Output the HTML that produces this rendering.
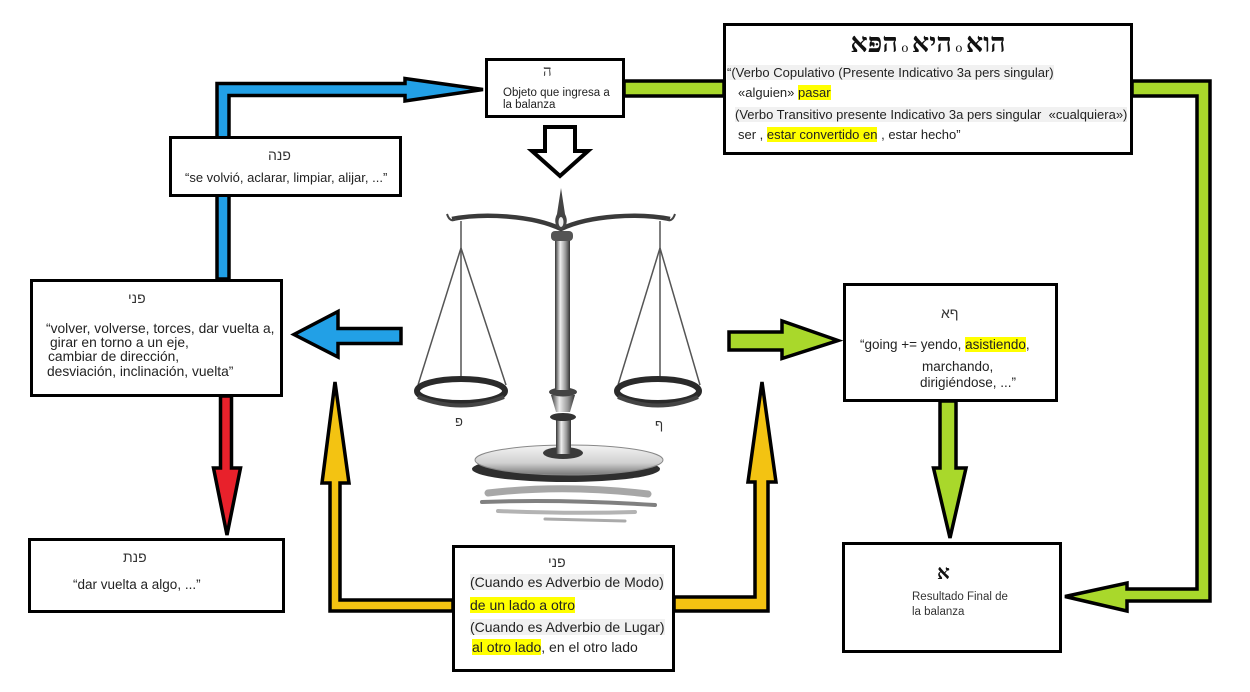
<!DOCTYPE html>
<html><head><meta charset="utf-8">
<style>
html,body{margin:0;padding:0;background:#fff;}
#p{position:relative;width:1250px;height:692px;overflow:hidden;background:#fff;font-family:"Liberation Sans","DejaVu Sans",sans-serif;color:#222;}
.b{position:absolute;border:3.5px solid #000;background:#fff;box-sizing:border-box;}
.t{position:absolute;white-space:nowrap;line-height:16px;font-size:13px;}
.h{position:absolute;white-space:nowrap;direction:rtl;font-family:"Liberation Sans","DejaVu Sans",sans-serif;font-size:14px;line-height:18px;color:#333;}
mark{background:#ffff00;color:inherit;padding:0;}
.g{background:#f1f1f1;}
</style></head><body><div id="p">
<svg width="1250" height="692" style="position:absolute;left:0;top:0">
<defs>
<linearGradient id="col" x1="0" x2="1" y1="0" y2="0"><stop offset="0" stop-color="#333"/><stop offset="0.35" stop-color="#eee"/><stop offset="0.7" stop-color="#999"/><stop offset="1" stop-color="#333"/></linearGradient>
<linearGradient id="bs" x1="0" y1="0" x2="0" y2="1"><stop offset="0" stop-color="#f4f4f4"/><stop offset="0.6" stop-color="#d0d0d0"/><stop offset="1" stop-color="#777"/></linearGradient>
</defs>
<g stroke="#000" stroke-width="3.5" stroke-linejoin="miter">
<path d="M217 279 L217 83.5 L405 83.5 L405 78.5 L483 89.5 L405 101 L405 95.5 L229 95.5 L229 279 Z" fill="#22a0e6"/>
<path d="M545 127 L575 127 L575 151 L588 151 L560 176 L532 151 L545 151 Z" fill="#fff" stroke-width="4"/>
<rect x="624" y="81" width="100" height="15" fill="#a9d82b"/>
<path d="M1132 81 L1210 81 L1210 601 L1127 601 L1127 611 L1065 596.5 L1127 583 L1127 589 L1197 589 L1197 96 L1132 96 Z" fill="#a9d82b"/>
<path d="M401 328.5 L338 328.5 L338 311.5 L294 334.5 L338 357 L338 343.5 L401 343.5 Z" fill="#22a0e6"/>
<path d="M220.5 396 L220.5 468 L213.5 468 L227 535 L240.5 468 L231.5 468 L231.5 396 Z" fill="#e8212b"/>
<path d="M453 600 L340 600 L340 483 L349 483 L335 382 L322 483 L330 483 L330 611 L453 611 Z" fill="#f3c312"/>
<path d="M674 597 L755 597 L755 482 L748 482 L762 382 L776 482 L768 482 L768 611 L674 611 Z" fill="#f3c312"/>
<path d="M729 332 L782 332 L782 321 L838 340.5 L782 358.5 L782 350 L729 350 Z" fill="#a9d82b"/>
<path d="M940 401 L940 468 L933.5 468 L950 538 L966 468 L956 468 L956 401 Z" fill="#a9d82b"/>
</g>
<g>
<path d="M488 493 Q565 484 648 494" stroke="#8a8a8a" stroke-width="7" fill="none" stroke-linecap="round" opacity="0.75"/>
<path d="M482 502 Q560 499 655 505" stroke="#555" stroke-width="4" fill="none" stroke-linecap="round" opacity="0.75"/>
<path d="M498 511 Q570 514 635 512" stroke="#999" stroke-width="4" fill="none" stroke-linecap="round" opacity="0.75"/>
<path d="M545 519 L625 521" stroke="#aaa" stroke-width="3" fill="none" stroke-linecap="round"/>
<ellipse cx="566" cy="469" rx="94" ry="13" fill="#2e2e2e"/>
<ellipse cx="569" cy="460" rx="94" ry="15" fill="url(#bs)" stroke="#888" stroke-width="1"/>
<ellipse cx="563" cy="453" rx="20" ry="6" fill="#3a3a3a"/>
<rect x="556" y="418" width="15" height="36" fill="url(#col)"/>
<ellipse cx="563" cy="417" rx="13" ry="4" fill="#333"/>
<path d="M551 395 L575 395 L570 412 L556 412 Z" fill="url(#col)"/>
<ellipse cx="563" cy="392" rx="14" ry="4.5" fill="#444"/>
<rect x="555" y="240" width="15" height="150" fill="url(#col)"/>
<rect x="551" y="231" width="22" height="10" rx="4" fill="#555"/>
<path d="M452 219 C482 213 532 215 561 229 C590 215 640 213 670 219" stroke="#3a3a3a" stroke-width="4.5" fill="none"/>
<path d="M447 214 Q450 223 456 219" stroke="#444" stroke-width="2" fill="none"/>
<path d="M675 214 Q672 223 666 219" stroke="#444" stroke-width="2" fill="none"/>
<path d="M561 188 L557 214 Q552 224 561 231 Q570 224 565 214 Z" fill="#444"/>
<ellipse cx="561" cy="222" rx="2.5" ry="5" fill="#eee"/>
<g stroke="#555" stroke-width="1.5" fill="none">
<line x1="461" y1="221" x2="461" y2="377"/>
<line x1="461" y1="248" x2="418" y2="385"/>
<line x1="461" y1="248" x2="506" y2="385"/>
<line x1="660" y1="221" x2="660" y2="377"/>
<line x1="660" y1="248" x2="618" y2="385"/>
<line x1="660" y1="248" x2="700" y2="385"/>
</g>
<ellipse cx="461" cy="391" rx="44" ry="12" fill="#fff" stroke="#2a2a2a" stroke-width="6"/>
<path d="M418 397 Q461 414 504 397" stroke="#444" stroke-width="4" fill="none"/>
<ellipse cx="658" cy="391" rx="41" ry="12" fill="#fff" stroke="#2a2a2a" stroke-width="6"/>
<path d="M618 397 Q658 414 698 397" stroke="#444" stroke-width="4" fill="none"/>
</g>
</svg>

<div class="b" style="left:485px;top:58px;width:140px;height:60px"></div>
<div class="b" style="left:723px;top:23px;width:410px;height:132px"></div>
<div class="b" style="left:169px;top:136px;width:233px;height:61px"></div>
<div class="b" style="left:30px;top:279px;width:253px;height:118px"></div>
<div class="b" style="left:843px;top:283px;width:215px;height:119px"></div>
<div class="b" style="left:28px;top:538px;width:257px;height:75px"></div>
<div class="b" style="left:452px;top:545px;width:223px;height:127px"></div>
<div class="b" style="left:842px;top:542px;width:220px;height:111px"></div>

<div class="h" style="left:455px;top:413px;font-size:13px">פ</div>
<div class="h" style="left:655px;top:416px;font-size:13px">ף</div>

<div class="h" style="left:543px;top:63px;font-family:'Liberation Serif','DejaVu Serif',serif;font-size:15px">ה</div>
<div class="t" style="left:503px;top:86px;font-size:11.5px;line-height:14px">Objeto que ingresa a</div>
<div class="t" style="left:503px;top:98px;font-size:11.5px;line-height:14px">la balanza</div>

<div class="h" style="left:723px;width:410px;top:27px;text-align:center;font-family:'Liberation Serif','DejaVu Serif',serif;font-weight:bold;font-size:27px;line-height:32px;color:#111">הוא<span style="font-size:14px;font-weight:normal"> o </span>היא<span style="font-size:14px;font-weight:normal"> o </span>הפּא</div>
<div class="t" style="left:727px;top:65px"><span class="g">“(Verbo Copulativo (Presente Indicativo 3a pers singular)</span></div>
<div class="t" style="left:738px;top:85px">«alguien» <mark>pasar</mark></div>
<div class="t" style="left:735px;top:107px"><span class="g">(Verbo Transitivo presente Indicativo 3a pers singular&nbsp; «cualquiera»)</span></div>
<div class="t" style="left:738px;top:127px">ser , <mark>estar convertido en</mark> , estar hecho”</div>

<div class="h" style="left:268px;top:146px">פנה</div>
<div class="t" style="left:185px;top:170px">“se volvió, aclarar, limpiar, alijar, ...”</div>

<div class="h" style="left:128px;top:289px">פני</div>
<div class="t" style="left:46px;top:321px;font-size:13.8px">“volver, volverse, torces, dar vuelta a,</div>
<div class="t" style="left:50px;top:335px;font-size:13.8px">girar en torno a un eje,</div>
<div class="t" style="left:48px;top:349px;font-size:13.8px">cambiar de dirección,</div>
<div class="t" style="left:47px;top:364px;font-size:13.8px">desviación, inclinación, vuelta”</div>

<div class="h" style="left:941px;top:304px">ףא</div>
<div class="t" style="left:860px;top:337px;font-size:13.5px">“going += yendo, <mark>asistiendo</mark>,</div>
<div class="t" style="left:922px;top:359px;font-size:13.5px">marchando,</div>
<div class="t" style="left:920px;top:375px;font-size:13.5px">dirigiéndose, ...”</div>

<div class="h" style="left:123px;top:548px">פנת</div>
<div class="t" style="left:73px;top:577px;font-size:13.5px">“dar vuelta a algo, ...”</div>

<div class="h" style="left:548px;top:553px">פני</div>
<div class="t" style="left:470px;top:574px;font-size:14px"><span class="g">(Cuando es Adverbio de Modo)</span></div>
<div class="t" style="left:470px;top:597px;font-size:14px"><mark>de un lado a otro</mark></div>
<div class="t" style="left:470px;top:619px;font-size:14px"><span class="g">(Cuando es Adverbio de Lugar)</span></div>
<div class="t" style="left:472px;top:639px;font-size:14px"><mark>al otro lado</mark>, en el otro lado</div>

<div class="h" style="left:937px;top:562px;font-family:'Liberation Serif','DejaVu Serif',serif;font-weight:bold;font-size:20px;line-height:22px;color:#111">א</div>
<div class="t" style="left:912px;top:590px;font-size:11.5px;line-height:14px;color:#333">Resultado Final de</div>
<div class="t" style="left:912px;top:605px;font-size:11.5px;line-height:14px;color:#333">la balanza</div>
</div></body></html>
